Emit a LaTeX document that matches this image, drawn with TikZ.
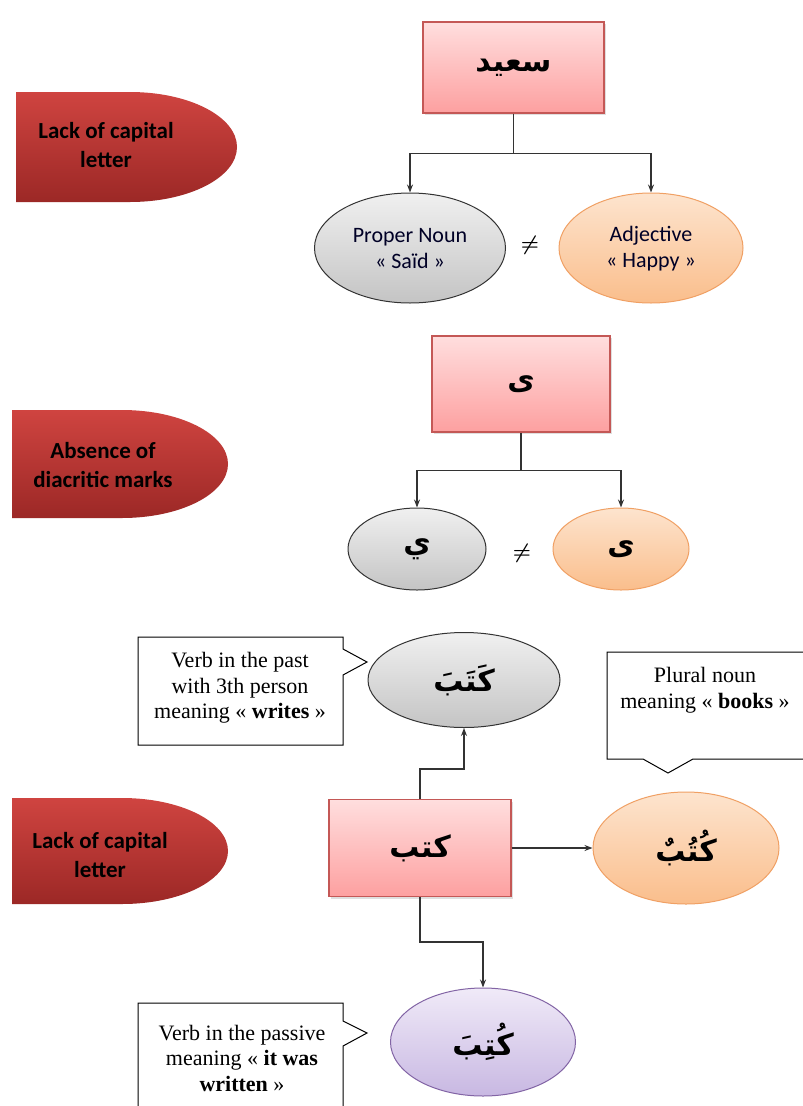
\documentclass[tikz,border=0pt]{standalone}
\usepackage{fontspec}
\setmainfont{Liberation Serif}
\newfontfamily\calib{Carlito}
\newfontfamily\arabicfont[Script=Arabic]{DejaVu Sans}
\TeXXeTstate=1
\usetikzlibrary{shapes.geometric,arrows.meta,shadows}
\definecolor{tabtop}{RGB}{207,68,64}
\definecolor{tabbot}{RGB}{156,40,38}
\definecolor{pinktop}{RGB}{255,222,222}
\definecolor{pinkbot}{RGB}{253,160,160}
\definecolor{pinkborder}{RGB}{196,88,86}
\definecolor{greytop}{RGB}{240,240,240}
\definecolor{greybot}{RGB}{196,196,196}
\definecolor{orangetop}{RGB}{253,228,206}
\definecolor{orangebot}{RGB}{250,190,140}
\definecolor{orangeborder}{RGB}{240,160,100}
\definecolor{purpletop}{RGB}{240,234,248}
\definecolor{purplebot}{RGB}{200,184,226}
\definecolor{purpleborder}{RGB}{130,100,165}
\begin{document}
\begin{tikzpicture}[x=1pt,y=-1pt,
  tabshape/.style={top color=tabtop,bottom color=tabbot,draw=none},
  tabtext/.style={font=\calib\bfseries\fontsize{23}{29}\selectfont,align=center,text=black},
  pinkbox/.style={rectangle,draw=pinkborder,line width=1.2pt,top color=pinktop,bottom color=pinkbot,inner sep=0pt,
     drop shadow={shadow xshift=2pt,shadow yshift=-2pt,opacity=0.25},font=\arabicfont\bfseries\fontsize{30}{36}\selectfont},
  ellbase/.style={ellipse,inner sep=0pt,line width=1pt},
  greyell/.style={ellbase,draw=black!80,top color=greytop,bottom color=greybot},
  orangeell/.style={ellbase,draw=orangeborder,top color=orangetop,bottom color=orangebot},
  purpleell/.style={ellbase,draw=purpleborder,top color=purpletop,bottom color=purplebot},
  elltext/.style={font=\calib\fontsize{22}{26}\selectfont,align=center,text=black!85!blue},
  arabtext/.style={font=\arabicfont\bfseries\fontsize{30}{36}\selectfont},
  conn/.style={line width=1.3pt,draw=black!80},
  arr/.style={conn,-{Stealth[length=8pt,width=6pt]}},
  callout/.style={draw=black,line width=1pt,fill=white},
  callouttext/.style={font=\fontsize{22}{25.5}\selectfont,align=center},
  neq/.style={font=\fontsize{20}{22}\selectfont\boldmath}
]
\useasboundingbox (0,0) rectangle (803,1106);
\fill[white] (0,0) rectangle (803,1106);

% ---------- red tabs ----------
\shade[tabshape] (16,92) -- (130,92) arc[start angle=-90,end angle=90,x radius=107,y radius=55] -- (16,202) -- cycle;
\node[tabtext] (t1) at (106,145) {Lack of capital\\letter};

\shade[tabshape] (12,410) -- (122,410) arc[start angle=-90,end angle=90,x radius=106,y radius=54] -- (12,518) -- cycle;
\node[tabtext] (t2) at (103,465) {Absence of\\diacritic marks};

\shade[tabshape] (12,798) -- (122,798) arc[start angle=-90,end angle=90,x radius=106,y radius=53] -- (12,904) -- cycle;
\node[tabtext] (t3) at (100,855) {Lack of capital\\letter};

% ---------- section 1 ----------
\node[pinkbox,minimum width=181pt,minimum height=91pt] (b1) at (513.5,67.5) {\beginR سعيد\endR};
\node[greyell,minimum width=191pt,minimum height=110pt] (e11) at (410,248) {};
\node[elltext] (l11) at (410,249) {Proper Noun\\« Saïd »};
\node[orangeell,minimum width=184pt,minimum height=110pt] (e12) at (651,248) {};
\node[elltext] (l12) at (651,249) {Adjective\\« Happy »};
\node[neq] (n1) at (530,245) {$\neq$};
\draw[conn] (b1.south) -- ++(0,40) coordinate (j1);
\draw[arr] (j1) -| (e11.north);
\draw[arr] (j1) -| (e12.north);

% ---------- section 2 ----------
\node[pinkbox,minimum width=178pt,minimum height=96pt] (b2) at (521,384) {\beginR ى\endR};
\node[greyell,minimum width=138pt,minimum height=82pt,arabtext] (e21) at (417,549) {\beginR ي\endR};
\node[orangeell,minimum width=136pt,minimum height=82pt,arabtext] (e22) at (621,549) {\beginR ى\endR};
\node[neq] (n2) at (522,553) {$\neq$};
\draw[conn] (b2.south) -- ++(0,38) coordinate (j2);
\draw[arr] (j2) -| (e21.north);
\draw[arr] (j2) -| (e22.north);

% ---------- section 3 ----------
\node[pinkbox,minimum width=182pt,minimum height=97pt] (b3) at (420,848) {\beginR كتب\endR};
\node[greyell,minimum width=192pt,minimum height=95pt,arabtext] (e31) at (464,680) {\beginR كَتَبَ\endR};
\node[orangeell,minimum width=186pt,minimum height=112pt,arabtext] (e32) at (686,848) {\beginR كُتُبٌ\endR};
\node[purpleell,minimum width=185pt,minimum height=108pt,arabtext] (e33) at (483,1042) {\beginR كُتِبَ\endR};

\draw[arr] (b3.north) -- ++(0,-30) -| (e31.south);
\draw[arr] (b3.east) -- (e32.west);
\draw[arr] (b3.south) -- ++(0,45) -| (e33.north);

% callouts
\draw[callout] (138,637) -- (343,637) -- (343,649) -- (367,662) -- (343,675) -- (343,745) -- (138,745) -- cycle;
\node[callouttext] (c1) at (240,688) {Verb in the past\\with 3th person\\meaning « \textbf{writes} »};

\draw[callout] (804,652) -- (607,652) -- (607,759) -- (643,759) -- (668,773) -- (693,759) -- (804,759);
\node[callouttext] (c2) at (705,690) {Plural noun\\meaning « \textbf{books} »};

\draw[callout] (138,1108) -- (138,1003) -- (343,1003) -- (343,1021) -- (367,1033) -- (343,1046) -- (343,1108);
\node[callouttext] (c3) at (242,1058) {Verb in the passive\\meaning « \textbf{it was}\\\textbf{written} »};
\end{tikzpicture}
\end{document}
